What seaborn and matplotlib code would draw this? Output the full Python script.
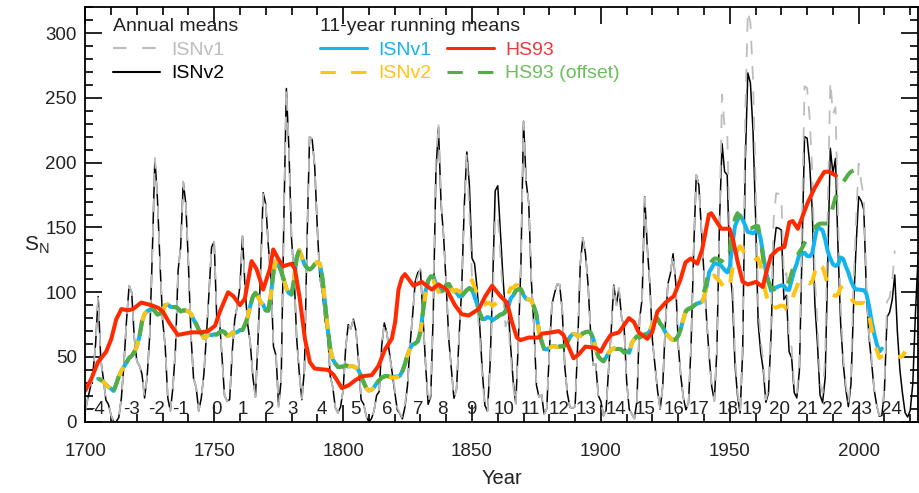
import numpy as np
import pandas as pd
import matplotlib
matplotlib.use("Agg")
import matplotlib.pyplot as plt
from matplotlib.lines import Line2D
from matplotlib.ticker import MultipleLocator
import seaborn as sns

# ---------------- data ----------------
years_v2 = list(range(1700, 2024))
isn_v2 = [
    8.3, 18.3, 26.7, 38.3, 60.0, 96.7, 48.3, 33.3, 16.7, 13.3,
    5.0, 0.0, 0.0, 3.3, 18.3, 45.0, 78.3, 105.0, 100.0, 65.0,
    46.7, 43.3, 36.7, 18.3, 35.0, 66.7, 130.0, 203.3, 171.7, 121.7,
    78.3, 58.3, 18.3, 8.3, 26.7, 56.7, 116.7, 135.0, 185.0, 168.3,
    121.7, 66.7, 33.3, 26.7, 8.3, 18.3, 36.7, 66.7, 100.0, 134.8,
    139.0, 79.5, 79.7, 51.2, 20.3, 16.0, 17.0, 54.0, 79.3, 90.0,
    104.8, 143.2, 102.0, 75.2, 60.7, 34.8, 19.0, 63.0, 116.3, 176.8,
    168.0, 136.0, 110.8, 58.0, 51.0, 11.7, 33.0, 154.2, 257.3, 209.8,
    141.3, 113.5, 64.2, 38.0, 17.0, 40.2, 138.2, 220.0, 218.2, 196.8,
    149.8, 111.0, 100.0, 78.2, 68.3, 35.5, 26.7, 10.7, 6.8, 11.3,
    24.2, 56.7, 75.0, 71.8, 79.2, 70.3, 46.8, 16.8, 13.5, 4.2,
    0.0, 2.3, 8.3, 20.3, 23.2, 59.0, 76.3, 68.3, 52.9, 38.5,
    24.2, 9.2, 6.3, 2.2, 11.4, 28.2, 59.9, 83.0, 108.5, 115.2,
    117.4, 80.8, 44.3, 13.4, 19.5, 85.8, 192.7, 227.3, 168.7, 143.0,
    105.5, 63.3, 40.3, 18.1, 25.1, 65.8, 102.7, 166.3, 208.3, 182.5,
    126.3, 122.0, 102.7, 74.1, 39.0, 12.7, 8.2, 43.4, 104.4, 178.3,
    182.2, 146.6, 112.1, 83.5, 89.2, 57.8, 30.7, 13.9, 62.8, 123.6,
    232.0, 185.3, 169.2, 110.1, 74.5, 28.3, 18.9, 20.7, 5.7, 10.0,
    53.7, 90.5, 99.0, 106.1, 105.8, 86.3, 42.4, 21.8, 11.2, 10.4,
    11.8, 59.5, 121.7, 142.0, 130.0, 106.6, 69.4, 43.8, 44.4, 20.2,
    15.7, 4.6, 8.5, 40.8, 70.1, 105.5, 90.1, 102.8, 80.9, 73.2,
    30.9, 9.5, 6.0, 2.4, 16.1, 79.0, 95.0, 173.6, 134.6, 105.7,
    62.7, 43.5, 23.7, 9.7, 27.9, 74.0, 106.5, 114.7, 129.7, 108.2,
    59.4, 35.1, 18.6, 9.2, 14.6, 60.2, 132.8, 190.6, 182.6, 148.0,
    113.0, 79.2, 50.8, 27.1, 16.1, 55.3, 154.3, 214.7, 193.0, 190.7,
    118.9, 98.3, 45.0, 20.1, 6.6, 54.2, 200.7, 269.3, 261.7, 225.1,
    159.0, 76.4, 53.4, 39.9, 15.0, 22.0, 66.8, 132.9, 150.0, 149.4,
    148.0, 94.4, 97.6, 54.1, 49.2, 22.5, 18.4, 39.3, 131.0, 220.1,
    218.9, 198.9, 162.4, 91.0, 60.5, 20.6, 14.8, 33.9, 123.0, 211.1,
    191.8, 203.3, 133.0, 76.1, 44.9, 25.1, 11.6, 28.9, 88.3, 136.3,
    173.9, 170.4, 163.6, 99.3, 65.3, 45.8, 24.7, 12.6, 4.2, 4.8,
    24.9, 80.8, 84.5, 94.0, 113.3, 69.8, 39.8, 21.7, 7.0, 3.6,
    8.8, 29.6, 83.2, 125.5,
]

years_v1 = list(range(1700, 2015))
isn_v1_raw = [
    5, 11, 16, 23, 36, 58, 29, 20, 10, 8,
    3, 0, 0, 2, 11, 27, 47, 63, 60, 39,
    28, 26, 22, 11, 21, 40, 78, 122, 103, 73,
    47, 35, 11, 5, 16, 34, 70, 81, 111, 101,
    73, 40, 20, 16, 5, 11, 22, 40, 60, 80.9,
    83.4, 47.7, 47.8, 30.7, 12.2, 9.6, 10.2, 32.4, 47.6, 54.0,
    62.9, 85.9, 61.2, 45.1, 36.4, 20.9, 11.4, 37.8, 69.8, 106.1,
    100.8, 81.6, 66.5, 34.8, 30.6, 7.0, 19.8, 92.5, 154.4, 125.9,
    84.8, 68.1, 38.5, 22.8, 10.2, 24.1, 82.9, 132.0, 130.9, 118.1,
    89.9, 66.6, 60.0, 46.9, 41.0, 21.3, 16.0, 6.4, 4.1, 6.8,
    14.5, 34.0, 45.0, 43.1, 47.5, 42.2, 28.1, 10.1, 8.1, 2.5,
    0.0, 1.4, 5.0, 12.2, 13.9, 35.4, 45.8, 41.0, 30.1, 23.9,
    15.6, 6.6, 4.0, 1.8, 8.5, 16.6, 36.3, 49.6, 64.2, 67.0,
    70.9, 47.8, 27.5, 8.5, 13.2, 56.9, 121.5, 138.3, 103.2, 85.7,
    64.6, 36.7, 24.2, 10.7, 15.0, 40.1, 61.5, 98.5, 124.7, 96.3,
    66.6, 64.5, 54.1, 39.0, 20.6, 6.7, 4.3, 22.7, 54.8, 93.8,
    95.8, 77.2, 59.1, 44.0, 47.0, 30.5, 16.3, 7.3, 37.6, 74.0,
    139.0, 111.2, 101.6, 66.2, 44.7, 17.0, 11.3, 12.4, 3.4, 6.0,
    32.3, 54.3, 59.7, 63.7, 63.5, 52.2, 25.4, 13.1, 6.8, 6.3,
    7.1, 35.6, 73.0, 85.1, 78.0, 64.0, 41.8, 26.2, 26.7, 12.1,
    9.5, 2.7, 5.0, 24.4, 42.0, 63.5, 53.8, 62.0, 48.5, 43.9,
    18.6, 5.7, 3.6, 1.4, 9.6, 47.4, 57.1, 103.9, 80.6, 63.6,
    37.6, 26.1, 14.2, 5.8, 16.7, 44.3, 63.9, 69.0, 77.8, 64.9,
    35.7, 21.2, 11.1, 5.7, 8.7, 36.1, 79.7, 114.4, 109.6, 88.8,
    67.8, 47.5, 30.6, 16.3, 9.6, 33.2, 92.6, 151.6, 136.3, 134.7,
    83.9, 69.4, 31.5, 13.9, 4.4, 38.0, 141.7, 190.2, 184.8, 159.0,
    112.3, 53.9, 37.6, 27.9, 10.2, 15.1, 47.0, 93.8, 105.9, 105.5,
    104.5, 66.6, 68.9, 38.0, 34.5, 15.5, 12.6, 27.5, 92.5, 155.4,
    154.6, 140.4, 115.9, 66.6, 45.9, 17.9, 13.4, 29.4, 100.2, 157.6,
    142.6, 145.7, 94.3, 54.6, 29.9, 17.5, 8.6, 21.5, 64.3, 93.3,
    119.6, 111.0, 104.0, 63.7, 40.4, 29.8, 15.2, 7.5, 2.9, 3.1,
    16.5, 55.7, 57.6, 64.7, 79.3,
]
V1_TO_V2 = 0.6          # ISNv1 shown on the v2 scale (divided by 0.6)
RUN_WINDOW = 11         # 11-year running means

hs93_years = [1700.0, 1702.3, 1704.9, 1708.1, 1710.1, 1712.0, 1714.0, 1716.6, 1718.5, 1721.7,
              1725.6, 1728.2, 1730.1, 1732.7, 1735.9, 1741.1, 1745.0, 1747.6, 1750.3, 1752.2,
              1755.4, 1757.4, 1760.0, 1761.9, 1764.5, 1766.4, 1769.0, 1771.6, 1772.9, 1774.8,
              1776.7, 1780.0, 1781.3, 1783.2, 1785.2, 1787.1, 1789.0, 1794.2, 1796.4, 1799.5,
              1802.1, 1804.7, 1807.2, 1811.1, 1813.7, 1816.3, 1818.9, 1820.2, 1821.5, 1822.8,
              1824.0, 1827.3, 1830.5, 1834.4, 1837.0, 1840.2, 1843.4, 1846.0, 1848.7, 1852.6,
              1855.2, 1857.8, 1861.0, 1863.6, 1865.5, 1867.4, 1868.8, 1872.0, 1875.9, 1877.1,
              1881.0, 1883.6, 1885.5, 1888.1, 1889.4, 1891.4, 1894.0, 1897.9, 1899.9, 1901.8,
              1903.8, 1907.0, 1910.9, 1912.8, 1914.7, 1918.0, 1919.9, 1921.9, 1925.1, 1928.3,
              1930.9, 1932.8, 1934.8, 1937.4, 1939.3, 1941.9, 1942.8, 1944.4, 1946.7, 1949.9,
              1951.2, 1953.1, 1955.0, 1957.0, 1960.2, 1962.8, 1964.1, 1966.0, 1968.6, 1971.2,
              1973.1, 1974.4, 1976.4, 1978.3, 1980.2, 1982.8, 1984.8, 1986.7, 1988.6, 1991.2]
hs93_vals = [24, 33, 46, 54, 64, 79, 87, 86, 87, 92,
             90, 88, 85, 76, 67, 69, 69, 70, 74, 85,
             100, 97, 90, 95, 124, 118, 102, 118, 133, 126,
             120, 122, 118, 95, 64, 46, 41, 40, 36, 26,
             28, 32, 35, 36, 43, 56, 64, 77, 102, 111,
             114, 105, 108, 102, 106, 102, 90, 83, 82, 87,
             97, 105, 97, 92, 77, 65, 63, 65, 65, 68,
             69, 70, 67, 55, 49, 52, 58, 57, 54, 61,
             67, 69, 80, 77, 69, 64, 69, 85, 92, 97,
             110, 123, 126, 122, 133, 160, 161, 156, 149, 149,
             141, 123, 108, 106, 108, 104, 115, 128, 133, 135,
             154, 155, 149, 159, 169, 180, 187, 193, 193, 190]

# HS93 (offset): follows the ISNv1 running mean up to 1939, read-off values afterwards
offset_join_year = 1939
offset_years = [1940, 1941, 1942, 1943, 1944, 1945, 1946, 1947, 1948, 1949,
                1950, 1951, 1952, 1953, 1954, 1955, 1956, 1957, 1958, 1959,
                1960, 1961, 1962, 1963, 1964, 1965, 1966, 1967, 1968, 1969,
                1970, 1971, 1972, 1973, 1974, 1975, 1976, 1977, 1978, 1979,
                1980, 1981, 1982, 1983, 1984, 1985, 1986, 1987, 1988, 1989,
                1990, 1991, 1992, 1993, 1994, 1995, 1996, 1997, 1998]
offset_vals = [100, 108, 118, 124, 126, 126, 125, 124, 122, 124,
               132, 146, 157, 161, 158, 153, 150, 149, 149, 150,
               151, 151, 140, 125, 114, 108, 104, 102, 103, 102,
               102, 104, 106, 108, 115, 122, 128, 131, 134, 138,
               141, 144, 147, 150, 152, 153, 153, 153, 153, 158,
               166, 173, 177, 181, 185, 188, 191, 193, 194]

cycle_numbers = ["-4", "-3", "-2", "-1", "0", "1", "2", "3", "4", "5", "6", "7", "8", "9",
                 "10", "11", "12", "13", "14", "15", "16", "17", "18", "19", "20", "21",
                 "22", "23", "24"]
cycle_label_years = [1704.3, 1717.8, 1727.5, 1737.0, 1750.9, 1761.2, 1771.3, 1780.2, 1791.6,
                     1804.7, 1817.3, 1829.0, 1838.6, 1849.8, 1862.3, 1872.6, 1883.6, 1894.3,
                     1906.0, 1917.3, 1928.3, 1938.0, 1949.2, 1958.6, 1969.3, 1980.2, 1989.9,
                     2000.9, 2012.6]
cycle_label_level = 9.5

# ---------------- derived tables ----------------
annual_v2 = pd.DataFrame({"Year": years_v2, "SN": isn_v2})
annual_v1 = pd.DataFrame({"Year": years_v1, "SN": np.array(isn_v1_raw) / V1_TO_V2})
run_v1 = annual_v1.assign(SN=annual_v1["SN"].rolling(RUN_WINDOW, center=True).mean()).dropna()
run_v2 = annual_v2.assign(SN=annual_v2["SN"].rolling(RUN_WINDOW, center=True).mean()).dropna()
hs93 = pd.DataFrame({"Year": hs93_years, "SN": hs93_vals})
hs93_off = pd.concat([run_v1[run_v1["Year"] <= offset_join_year],
                      pd.DataFrame({"Year": offset_years, "SN": offset_vals})], ignore_index=True)

# ---------------- style ----------------
sns.set_style("ticks")
plt.rcParams["font.family"] = ["Liberation Sans", "DejaVu Sans"]
plt.rcParams["mathtext.fontset"] = "custom"
plt.rcParams["mathtext.rm"] = "Liberation Sans"
plt.rcParams["mathtext.it"] = "Liberation Sans"
plt.rcParams["mathtext.default"] = "regular"

TXT = "#222222"
C_GREY = "#bdbdbd"
C_BLACK = "#000000"
C_BLUE = "#14b4ee"
C_YELLOW = "#ffc412"
C_RED = "#ff2a00"
C_GREEN = "#52ad44"
LW_RUN = 2.9

fig = plt.figure(figsize=(9.2, 4.93), dpi=100)
ax = fig.add_axes([0.0927, 0.1446, 0.9051, 0.8406])

sns.lineplot(data=annual_v2, x="Year", y="SN", ax=ax, color=C_BLACK, lw=1.1, estimator=None)
sns.lineplot(data=annual_v1, x="Year", y="SN", ax=ax, color=C_GREY, lw=1.3,
             linestyle=(0, (7.5, 6.5)), estimator=None)
sns.lineplot(data=run_v1, x="Year", y="SN", ax=ax, color=C_BLUE, lw=LW_RUN, estimator=None)
sns.lineplot(data=run_v2, x="Year", y="SN", ax=ax, color=C_YELLOW, lw=LW_RUN,
             linestyle=(0, (3.8, 3.8)), estimator=None)
sns.lineplot(data=hs93_off, x="Year", y="SN", ax=ax, color=C_GREEN, lw=LW_RUN,
             linestyle=(2.6, (3.8, 3.8)), estimator=None)
sns.lineplot(data=hs93, x="Year", y="SN", ax=ax, color=C_RED, lw=LW_RUN, estimator=None)

for lab, yr in zip(cycle_numbers, cycle_label_years):
    ax.text(yr, cycle_label_level, lab, ha="center", va="center", fontsize=13.5, color=TXT)

ax.set_xlim(1700, 2023)
ax.set_ylim(0, 320)
ax.xaxis.set_major_locator(MultipleLocator(50))
ax.xaxis.set_minor_locator(MultipleLocator(10))
ax.yaxis.set_major_locator(MultipleLocator(50))
ax.yaxis.set_minor_locator(MultipleLocator(10))
ax.tick_params(which="both", direction="in", top=True, right=True, colors="black",
               labelcolor=TXT, labelsize=13.5, width=1.2)
ax.tick_params(which="major", length=12)
ax.tick_params(which="minor", length=6)
ax.tick_params(axis="x", which="major", pad=15)
ax.tick_params(axis="y", which="major", pad=6)
for s in ax.spines.values():
    s.set_linewidth(1.3)
    s.set_color("black")

ax.set_xlabel("Year", fontsize=14.5, color=TXT, labelpad=7)
ax.set_ylabel("S$_N$", fontsize=15, color=TXT, rotation=0, ha="center", va="center")
ax.yaxis.set_label_coords(-0.058, 0.425)

# legends
h_v1a = Line2D([], [], color=C_GREY, lw=1.5, linestyle=(0, (6.5, 7.5)))
h_v2a = Line2D([], [], color=C_BLACK, lw=1.5)
leg1 = ax.legend([h_v1a, h_v2a], ["ISNv1", "ISNv2"], title="Annual means",
                 loc="upper left", bbox_to_anchor=(0.0333, 0.973), frameon=False,
                 fontsize=14, title_fontsize=14, handlelength=2.4, handletextpad=0.6,
                 labelspacing=0.3, borderpad=0, borderaxespad=0, alignment="left")
for t, c in zip(leg1.get_texts(), [C_GREY, C_BLACK]):
    t.set_color(c)
leg1.get_title().set_color(TXT)
ax.add_artist(leg1)

h_b = Line2D([], [], color=C_BLUE, lw=2.2)
h_y = Line2D([], [], color=C_YELLOW, lw=2.2, linestyle=(0, (5, 5)))
h_r = Line2D([], [], color=C_RED, lw=2.2)
h_g = Line2D([], [], color=C_GREEN, lw=2.2, linestyle=(0, (5, 5)))
leg2 = ax.legend([h_b, h_y, h_r, h_g], ["ISNv1", "ISNv2", "HS93", "HS93 (offset)"],
                 title="11-year running means", ncol=2, loc="upper left",
                 bbox_to_anchor=(0.282, 0.973), frameon=False, fontsize=14, title_fontsize=14,
                 handlelength=2.4, handletextpad=0.6, labelspacing=0.3, columnspacing=0.8,
                 borderpad=0, borderaxespad=0, alignment="left")
for t, c in zip(leg2.get_texts(), [C_BLUE, C_YELLOW, "#f0383c", "#6cbf5c"]):
    t.set_color(c)
leg2.get_title().set_color(TXT)

fig.savefig("out.png", dpi=100)
